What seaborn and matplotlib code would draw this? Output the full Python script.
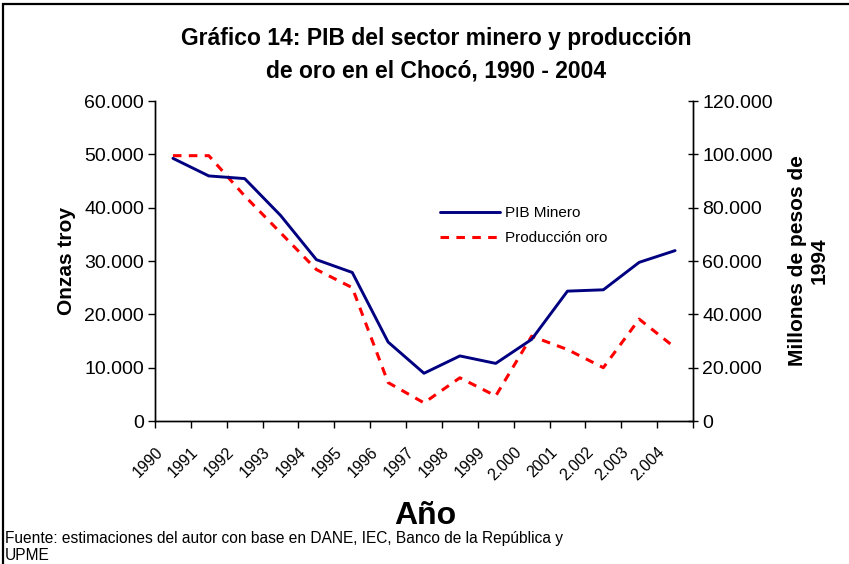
import matplotlib
matplotlib.use("Agg")
import matplotlib.pyplot as plt
import seaborn as sns
import pandas as pd
import numpy as np
from matplotlib.ticker import FuncFormatter
from matplotlib.lines import Line2D
from matplotlib.patches import Rectangle

# Data
years = ["1990", "1991", "1992", "1993", "1994", "1995", "1996", "1997",
         "1998", "1999", "2.000", "2001", "2.002", "2.003", "2.004"]
pib_minero = [98500, 91900, 90900, 77100, 60500, 55700, 29600, 17900,
              24400, 21600, 30600, 48700, 49200, 59500, 63900]
produccion_oro = [49750, 49750, 42200, 35300, 28400, 25000, 7200, 3400,
                  8100, 4700, 15900, 13400, 10000, 19100, 13750]

df = pd.DataFrame({
    "idx": np.arange(len(years)),
    "year": years,
    "pib": pib_minero,
    "oro": produccion_oro,
})

sns.set_style("white")
plt.rcParams["font.family"] = ["Liberation Sans", "DejaVu Sans"]
plt.rcParams["text.color"] = "black"
plt.rcParams["axes.labelcolor"] = "black"
plt.rcParams["xtick.color"] = "black"
plt.rcParams["ytick.color"] = "black"

fig = plt.figure(figsize=(8.49, 5.64), dpi=100)
ax = fig.add_axes([155 / 849, 1 - 421 / 564, (693 - 155) / 849, (421 - 101) / 564])
ax2 = ax.twinx()

red = "#FF0000"
navy = "#000080"

sns.lineplot(data=df, x="idx", y="oro", ax=ax, color=red, linewidth=2.2,
             dashes=False, legend=False)
ax.lines[0].set_dashes((2.8, 2.4))
sns.lineplot(data=df, x="idx", y="pib", ax=ax2, color=navy, linewidth=2.1,
             legend=False)

thousands = FuncFormatter(lambda v, p: "0" if v == 0 else f"{int(v):,}".replace(",", "."))

ax.set_xlim(-0.5, len(years) - 0.5)
ax.set_ylim(0, 60000)
ax.set_yticks(np.arange(0, 60001, 10000))
ax.yaxis.set_major_formatter(thousands)
ax2.set_ylim(0, 120000)
ax2.set_yticks(np.arange(0, 120001, 20000))
ax2.yaxis.set_major_formatter(thousands)

ax.set_xticks(np.arange(len(years) + 1) - 0.5)
ax.set_xticklabels(years + [""], rotation=45, ha="right", va="top",
                   rotation_mode="anchor", fontsize=11.5)

for a in (ax, ax2):
    for s in a.spines.values():
        s.set_color("black")
        s.set_linewidth(1.0)
ax.spines["top"].set_visible(False)
ax2.spines["top"].set_visible(False)

ax.tick_params(axis="x", direction="out", length=5, width=1, bottom=True, pad=12)
ax.tick_params(axis="y", direction="out", length=5, width=1, left=True,
               labelsize=14, pad=3)
ax2.tick_params(axis="y", direction="inout", length=7, width=1, right=True,
                labelsize=14, pad=3)

ax.set_xlabel("")
ax.set_ylabel("Onzas troy", fontsize=15, fontweight="bold", labelpad=6)
ax2.set_ylabel("Millones de pesos de\n1994", fontsize=15, fontweight="bold",
               labelpad=11, linespacing=1.15)

handles = [Line2D([], [], color=navy, linewidth=2.1),
           Line2D([], [], color=red, linewidth=2.2, dashes=(2.8, 2.4))]
ax2.legend(handles, ["PIB Minero", "Producción oro"], frameon=False,
           loc="upper left", bbox_to_anchor=(0.505, 0.715), fontsize=11,
           handlelength=3.9, handletextpad=0.3, labelspacing=0.75)

fig.text(436 / 849, 1 - 39 / 564, "Gráfico 14: PIB del sector minero y producción",
         ha="center", va="center", fontsize=16.5, fontweight="bold")
fig.text(436 / 849, 1 - 71 / 564, "de oro en el Chocó, 1990 - 2004",
         ha="center", va="center", fontsize=16.5, fontweight="bold")
fig.text(425 / 849, 1 - 516 / 564, "Año", ha="center", va="center",
         fontsize=23, fontweight="bold")
fig.text(5 / 849, 1 - 539 / 564,
         "Fuente: estimaciones del autor con base en DANE, IEC, Banco de la República y",
         ha="left", va="center", fontsize=11.2)
fig.text(5 / 849, 1 - 555 / 564, "UPME", ha="left", va="center", fontsize=11.2)

# outer chart frame (only top and left edges fall inside the image)
fig.add_artist(Rectangle((3 / 849, -0.1), 1.2, 1 - 4 / 564 + 0.1,
                         transform=fig.transFigure, fill=False,
                         edgecolor="black", linewidth=1.6))

fig.savefig("out.png", dpi=100)
